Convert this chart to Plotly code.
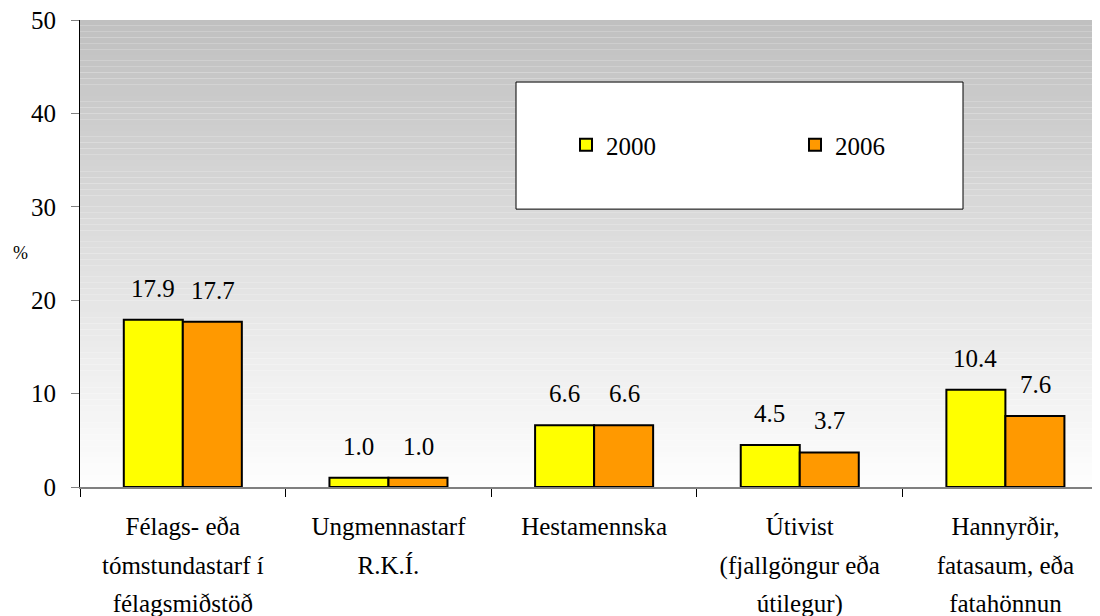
import plotly.graph_objects as go

categories = [
    "Félags- eða<br>tómstundastarf í<br>félagsmiðstöð",
    "Ungmennastarf<br>R.K.Í.",
    "Hestamennska",
    "Útivist<br>(fjallgöngur eða<br>útilegur)",
    "Hannyrðir,<br>fatasaum, eða<br>fatahönnun",
]
values_2000 = [17.9, 1.0, 6.6, 4.5, 10.4]
values_2006 = [17.7, 1.0, 6.6, 3.7, 7.6]
y_ticks = [0, 10, 20, 30, 40, 50]

FONT = "Liberation Serif, Times New Roman, serif"

# page has an 8px body margin, so the figure is sized to fit the window
W, H = 1092, 608
L, T, B = 72, 12, 129.3
PW, PH = W - L, H - T - B


def px_x(page_x):
    return (page_x - 8 - L) / PW


def px_y(page_y):
    return (H - B - (page_y - 8)) / PH


def spaced(label):
    # wider line spacing: the tick font sets the em, the span the glyph size
    return "<br>".join(
        f"<span style='font-size:25px'>{part}</span>" for part in label.split("<br>")
    )


fig = go.Figure()
fig.add_trace(go.Bar(
    name="2000", x=categories, y=values_2000,
    marker=dict(color="#FFFF00", line=dict(color="black", width=2)),
))
fig.add_trace(go.Bar(
    name="2006", x=categories, y=values_2006,
    marker=dict(color="#FF9900", line=dict(color="black", width=2)),
))

# value labels above each bar
annotations = []
for series, shift in [(values_2000, -30), (values_2006, 30)]:
    for cat, v in zip(categories, series):
        annotations.append(dict(
            x=cat, y=v, text=f"{v:.1f}", xref="x", yref="y",
            xshift=shift, yshift=16, yanchor="bottom", showarrow=False,
            font=dict(family=FONT, size=25, color="black"),
        ))
annotations.append(dict(
    text="%", xref="paper", yref="paper", x=px_x(20), y=px_y(253),
    showarrow=False, xanchor="center", yanchor="middle",
    font=dict(family=FONT, size=18),
))

# gray-to-white gradient behind the plot area
shapes = []
n = 80
for i in range(n):
    g = int(round(192 + (254 - 192) * i / (n - 1)))
    shapes.append(dict(
        type="rect", xref="x domain", yref="y domain",
        x0=0, x1=1, y0=1 - (i + 1) / n, y1=1 - i / n,
        fillcolor=f"rgb({g},{g},{g})", line=dict(width=0), layer="below",
    ))
# legend box
shapes.append(dict(
    type="rect", xref="paper", yref="paper",
    x0=px_x(516), x1=px_x(963), y0=px_y(209), y1=px_y(82),
    fillcolor="white", line=dict(color="black", width=1), layer="below",
))

fig.update_layout(
    width=W, height=H,
    margin=dict(l=L, r=0, t=T, b=B, autoexpand=False),
    paper_bgcolor="white", plot_bgcolor="white",
    font=dict(family=FONT, size=25, color="black"),
    barmode="group", bargap=0.426, bargroupgap=0,
    shapes=shapes, annotations=annotations,
    showlegend=True,
    legend=dict(
        orientation="h", x=px_x(566), y=px_y(145),
        xanchor="left", yanchor="middle", bgcolor="rgba(0,0,0,0)",
        entrywidth=184, font=dict(family=FONT, size=25),
    ),
)
fig.update_xaxes(
    range=[-0.5, 4.46], tickson="boundaries", ticks="outside", ticklen=8,
    tickcolor="black", showline=True, linecolor="gray", linewidth=1.5,
    showgrid=False, ticklabelstandoff=11, tickangle=0, automargin=False,
    tickmode="array", tickvals=categories, ticktext=[spaced(c) for c in categories],
    tickfont=dict(family=FONT, size=29.6), ticklabeloverflow="allow",
)
fig.update_yaxes(
    range=[0, 50], tickvals=y_ticks, ticks="outside", ticklen=8,
    tickcolor="gray", showline=True, linecolor="black", linewidth=1,
    showgrid=False, zeroline=False, ticklabelstandoff=10, automargin=False,
    ticklabeloverflow="allow", tickfont=dict(family=FONT, size=25),
)

fig.write_html("out.html")
